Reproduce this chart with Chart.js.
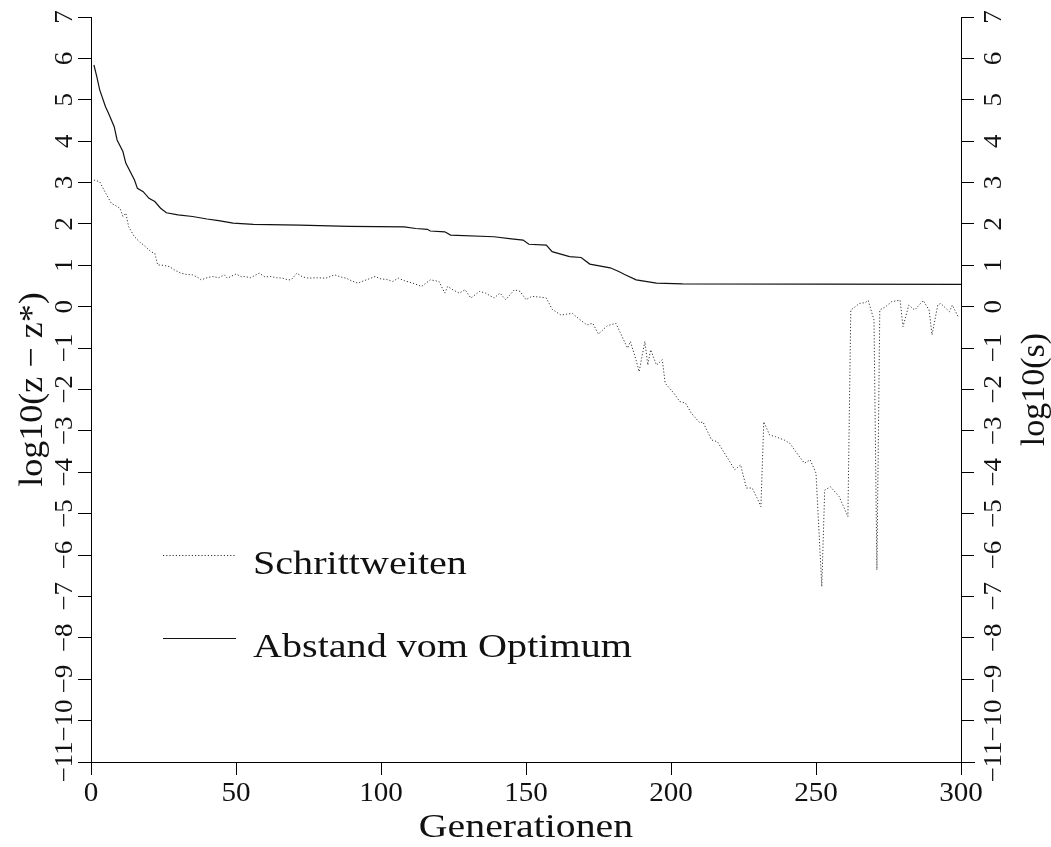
<!DOCTYPE html>
<html>
<head>
<meta charset="utf-8">
<script src="https://cdn.jsdelivr.net/npm/chart.js@4.4.0/dist/chart.umd.min.js"></script>
<style>
  html, body { margin: 0; padding: 0; background: #fff; }
</style>
</head>
<body>
<canvas id="myChart" width="1051" height="847"></canvas>
<script>
// Schrittweiten (dotted), log10(s)
const stepGens = [1,3,5,7,8,10,11,12,13,15,17,18,20,21,22,23,25,27,29,31,33,35,37,38,40,42,44,46,47,50,52,53,55,58,60,62,64,66,68,69,71,73,75,78,81,84,86,88,90,92,95,98,100,102,104,106,108,111,114,117,120,122,123,125,127,129,131,134,136,139,141,143,146,148,150,152,155,157,159,162,164,166,168,171,173,175,178,181,183,185,186,188,189,191,192,193,195,197,198,201,203,205,207,210,211,214,216,219,222,224,226,228,230,231,232,234,236,239,241,243,246,248,250,252,253,255,258,261,262,265,267,268,270,271,272,274,276,279,280,282,284,287,289,290,292,293,296,297,299];
const stepValues = [3.06,3.02,2.75,2.5,2.46,2.38,2.18,2.26,1.93,1.69,1.55,1.5,1.37,1.32,1.29,1.01,1.0,0.97,0.88,0.81,0.78,0.77,0.7,0.65,0.7,0.73,0.7,0.77,0.69,0.79,0.72,0.73,0.7,0.81,0.72,0.73,0.7,0.69,0.65,0.65,0.81,0.72,0.69,0.7,0.69,0.77,0.72,0.69,0.62,0.57,0.65,0.73,0.67,0.66,0.61,0.69,0.63,0.57,0.49,0.65,0.61,0.33,0.49,0.4,0.33,0.41,0.21,0.37,0.33,0.21,0.33,0.17,0.41,0.37,0.17,0.25,0.23,0.21,-0.06,-0.2,-0.18,-0.16,-0.28,-0.44,-0.4,-0.66,-0.46,-0.4,-0.7,-1.0,-0.84,-1.3,-1.57,-0.84,-1.41,-1.04,-1.41,-1.28,-1.85,-2.09,-2.29,-2.33,-2.57,-2.81,-2.78,-3.22,-3.26,-3.6,-3.94,-3.82,-4.38,-4.38,-4.67,-4.83,-2.78,-3.1,-3.14,-3.22,-3.3,-3.5,-3.78,-3.7,-4.02,-6.76,-4.43,-4.35,-4.59,-5.07,-0.08,0.08,0.1,0.15,-0.32,-6.36,-0.08,0.0,0.12,0.16,-0.48,0.04,-0.08,0.15,-0.08,-0.68,0.04,0.08,-0.12,0.04,-0.24];

// Abstand vom Optimum (solid), log10(z - z*)
const distGens = [1,2,3,5,6,8,9,11,12,15,16,18,20,22,24,26,30,35,40,44,49,56,72,89,108,112,116,117,122,124,139,145,149,151,157,159,162,165,169,172,179,182,184,188,195,204,300];
const distValues = [5.84,5.56,5.24,4.83,4.68,4.35,4.03,3.75,3.47,3.06,2.86,2.78,2.62,2.54,2.38,2.27,2.22,2.18,2.12,2.08,2.02,1.99,1.97,1.94,1.93,1.89,1.87,1.83,1.81,1.73,1.69,1.64,1.61,1.51,1.49,1.33,1.27,1.21,1.19,1.03,0.94,0.85,0.78,0.65,0.57,0.55,0.54];

const xTicks = [0, 50, 100, 150, 200, 250, 300];
const yTicks = [-11,-10,-9,-8,-7,-6,-5,-4,-3,-2,-1,0,1,2,3,4,5,6,7];
const seriesNames = ['Schrittweiten', 'Abstand vom Optimum'];

const FONT = '"Liberation Serif", "DejaVu Serif", serif';
const fmt = v => (v < 0 ? '\u2212' + Math.abs(v) : String(v));

const toPoints = (xs, ys) => xs.map((x, i) => ({ x: x, y: ys[i] }));

// the original uses a wide roman face, so stretch the big texts a bit
function wideText(ctx, text, x, y, sx) {
  ctx.save();
  ctx.translate(x, y);
  ctx.scale(sx, 1);
  ctx.fillText(text, 0, 0);
  ctx.restore();
}

const axisText = {
  id: 'axisText',
  afterDraw(chart) {
    const { ctx, chartArea: a, scales } = chart;
    ctx.save();
    ctx.fillStyle = '#111';
    ctx.strokeStyle = '#000';

    // bottom axis line runs under the tick stubs
    ctx.lineWidth = 1;
    ctx.beginPath();
    ctx.moveTo(a.left - 13, a.bottom + 0.5);
    ctx.lineTo(a.right + 14, a.bottom + 0.5);
    ctx.stroke();

    // rotated y tick labels on both sides
    ctx.font = '25px ' + FONT;
    ctx.textAlign = 'center';
    ctx.textBaseline = 'middle';
    yTicks.forEach(v => {
      const y = scales.y.getPixelForValue(v);
      [65, 994].forEach(x => {
        ctx.save();
        ctx.translate(x, y);
        ctx.rotate(-Math.PI / 2);
        ctx.scale(1.08, 1);
        ctx.fillText(fmt(v), 0, 0);
        ctx.restore();
      });
    });

    // x tick labels
    ctx.font = '27px ' + FONT;
    xTicks.forEach(v => {
      wideText(ctx, String(v), scales.x.getPixelForValue(v), 794, 1.08);
    });

    // axis titles
    ctx.font = '34px ' + FONT;
    wideText(ctx, 'Generationen', (a.left + a.right) / 2, 828, 1.17);
    const midY = (a.top + a.bottom) / 2;
    ctx.save();
    ctx.translate(33, midY);
    ctx.rotate(-Math.PI / 2);
    ctx.scale(1.06, 1);
    ctx.fillText('log10(z \u2212 z*)', 0, 0);
    ctx.restore();
    ctx.save();
    ctx.translate(1035, midY);
    ctx.rotate(-Math.PI / 2);
    ctx.fillText('log10(s)', 0, 0);
    ctx.restore();

    // legend
    ctx.textAlign = 'left';
    const rows = [555, 638];
    chart.data.datasets.forEach((ds, i) => {
      const y = rows[i];
      ctx.save();
      ctx.strokeStyle = ds.borderColor;
      ctx.lineWidth = ds.borderWidth;
      ctx.setLineDash(ds.borderDash || []);
      ctx.beginPath();
      ctx.moveTo(163, y + 0.5);
      ctx.lineTo(236, y + 0.5);
      ctx.stroke();
      ctx.restore();
      wideText(ctx, ds.label, 253, y + 10, 1.18);
    });
    ctx.restore();
  }
};

const tickGrid = {
  drawOnChartArea: false,
  drawTicks: true,
  tickLength: 13,
  color: '#000',
  lineWidth: 1
};

const config = {
  type: 'line',
  data: {
    datasets: [
      {
        label: seriesNames[0],
        data: toPoints(stepGens, stepValues),
        yAxisID: 'y2',
        borderColor: '#333',
        borderWidth: 1,
        borderDash: [1.2, 2],
        pointRadius: 0,
        tension: 0,
        fill: false
      },
      {
        label: seriesNames[1],
        data: toPoints(distGens, distValues),
        yAxisID: 'y',
        borderColor: '#111',
        borderWidth: 1.2,
        pointRadius: 0,
        tension: 0,
        fill: false
      }
    ]
  },
  options: {
    responsive: false,
    animation: false,
    layout: { padding: { top: 17, left: 0, right: 0, bottom: 0 } },
    plugins: { legend: { display: false }, tooltip: { enabled: false } },
    scales: {
      x: {
        type: 'linear',
        min: 0,
        max: 300,
        ticks: { stepSize: 50, display: false },
        grid: tickGrid,
        border: { display: false },
        afterFit: s => { s.height = 85; }
      },
      y: {
        position: 'left',
        min: -11,
        max: 7,
        ticks: { stepSize: 1, display: false },
        grid: tickGrid,
        border: { display: true, color: '#000', width: 1 },
        afterFit: s => { s.width = 91; }
      },
      y2: {
        position: 'right',
        min: -11,
        max: 7,
        ticks: { stepSize: 1, display: false },
        grid: tickGrid,
        border: { display: true, color: '#000', width: 1 },
        afterFit: s => { s.width = 90; }
      }
    }
  },
  plugins: [axisText]
};

const myChart = new Chart(document.getElementById('myChart'), config);
</script>
</body>
</html>
